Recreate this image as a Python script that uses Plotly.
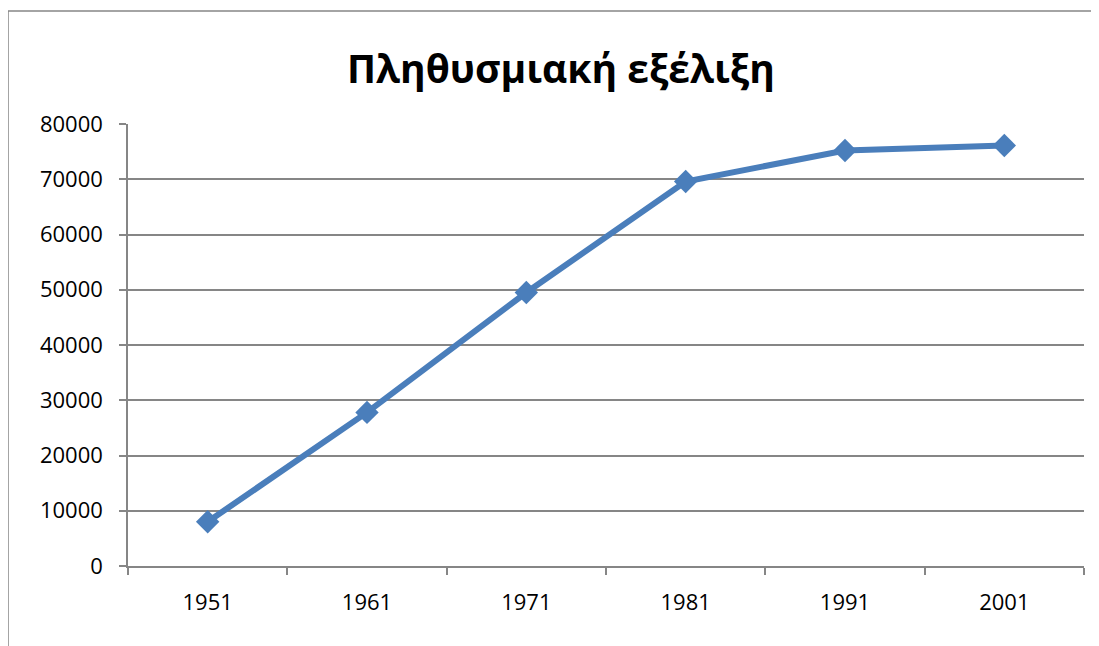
import plotly.graph_objects as go

years = ["1951", "1961", "1971", "1981", "1991", "2001"]
population = [8000, 27800, 49500, 69600, 75200, 76100]
y_ticks = [0, 10000, 20000, 30000, 40000, 50000, 60000, 70000, 80000]
title_text = "Πληθυσμιακή εξέλιξη"

# page body has an 8px default margin; compensate so the plot lands where the reference has it
OFF = 8
W, H = 1099 - OFF, 646 - OFF
L, R, T, B = 128 - OFF, 15, 124 - OFF, 80
pw, ph = W - L - R, H - T - B
gray = "#868686"

fig = go.Figure()
fig.add_trace(go.Scatter(
    x=years, y=population, mode="lines+markers",
    line=dict(color="#4A7EBB", width=6),
    marker=dict(symbol="diamond", size=18, color="#4A7EBB"),
    cliponaxis=False,
))

bx0 = (8 - 128) / pw
by1 = (566 - 11) / ph
fig.update_layout(
    width=W, height=H,
    margin=dict(l=L, r=R, t=T, b=B),
    paper_bgcolor="white", plot_bgcolor="white",
    showlegend=False,
    font=dict(family="Open Sans, Liberation Sans, sans-serif", size=22, color="black"),
    title=dict(text="<b>" + title_text + "</b>", x=(561 - OFF) / W, xanchor="center",
               y=1 - (69 - OFF) / H, yanchor="middle",
               font=dict(size=39, family="Open Sans, sans-serif", color="black")),
    xaxis=dict(type="category", tickson="boundaries", ticks="outside", ticklen=7,
               tickcolor=gray, tickwidth=1.5, showline=True, linecolor=gray, linewidth=1.5,
               showgrid=False, ticklabelstandoff=16, range=[-0.5, 5.5]),
    yaxis=dict(range=[0, 80000], tickvals=y_ticks, ticktext=[str(v) for v in y_ticks],
               ticks="outside", ticklen=7, tickcolor=gray, tickwidth=1.5,
               showline=True, linecolor=gray, linewidth=1.5,
               showgrid=True, gridcolor=gray, gridwidth=1.5, zeroline=False,
               ticklabelstandoff=12),
    shapes=[
        dict(type="line", xref="paper", yref="paper", x0=bx0, x1=1.2, y0=by1, y1=by1,
             line=dict(color=gray, width=1.5), layer="below"),
        dict(type="line", xref="paper", yref="paper", x0=bx0, x1=bx0, y0=-0.5, y1=by1,
             line=dict(color=gray, width=1.5), layer="below"),
    ],
)

fig.write_html("out.html")
